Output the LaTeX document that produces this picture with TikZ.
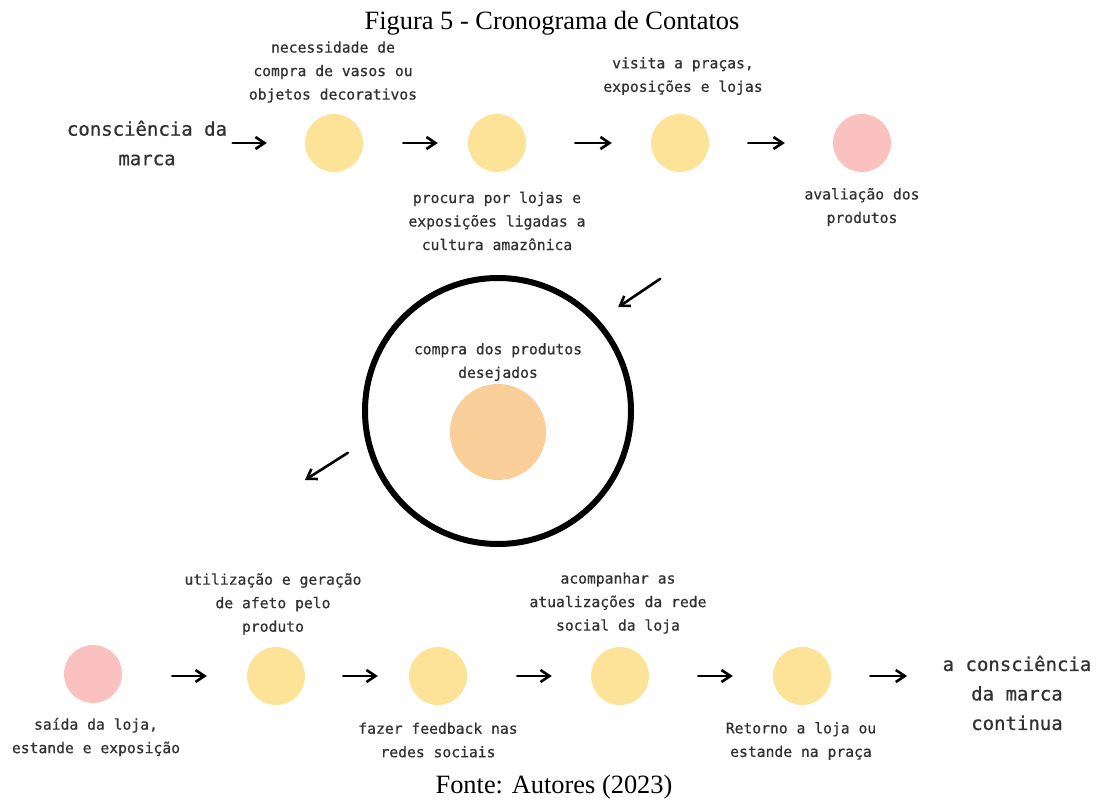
\documentclass[tikz,border=0pt]{standalone}
\usepackage{fontspec}
\setmainfont{Liberation Serif}
\setmonofont{DejaVu Sans Mono}[FakeBold=0.7]
\usetikzlibrary{arrows.meta}

\definecolor{amarelo}{RGB}{253,227,152}
\definecolor{rosa}{RGB}{250,193,190}
\definecolor{laranja}{RGB}{250,206,152}
\definecolor{texto}{RGB}{50,50,50}

\tikzset{
	etapa/.style={circle, fill=#1, minimum size=58pt, inner sep=0pt},
	seta/.style={-{Straight Barb[length=9pt,width=12pt]}, line width=2.6pt, line cap=round},
	rotulo/.style={align=center, text=texto, font=\ttfamily\fontsize{14.7}{23.5}\selectfont},
	grande/.style={align=center, text=texto, font=\ttfamily\fontsize{19}{29.5}\selectfont},
	legenda/.style={font=\fontsize{26.4}{30}\selectfont, anchor=base}
}

\begin{document}
\begin{tikzpicture}[x=1pt, y=-1pt]
		
		\fill[white] (0,0) rectangle (1097,802);
		\useasboundingbox (0,0) rectangle (1097,802);
		
		% titulo e fonte
		\node[legenda] (titulo) at (552,30) {Figura 5 - Cronograma de Contatos};
		\node[legenda] (fonte) at (554,793) {Fonte: Autores (2023)};
		
		% linha de cima
		\node[grande] (t0) at (147,143) {consciência da\\marca};
		\node[etapa=amarelo] (c1) at (334,143) {};
		\node[etapa=amarelo] (c2) at (497,143) {};
		\node[etapa=amarelo] (c3) at (680,143) {};
		\node[etapa=rosa] (c4) at (862,143) {};
		
		\node[rotulo] (l1) at (333,72) {necessidade de\\compra de vasos ou\\objetos decorativos};
		\node[rotulo] (l2) at (497,221) {procura por lojas e\\exposições ligadas a\\cultura amazônica};
		\node[rotulo] (l3) at (683,76) {visita a praças,\\exposições e lojas};
		\node[rotulo] (l4) at (862,207) {avaliação dos\\produtos};
		
		\draw[seta] ([xshift=2pt]t0.east |- c1) -- ([xshift=-38pt]c1.west);
		\draw[seta] ([xshift=40pt]c1.east) -- ([xshift=-30pt]c2.west);
		\draw[seta] ([xshift=49pt]c2.east) -- ([xshift=-39pt]c3.west);
		\draw[seta] ([xshift=39pt]c3.east) -- ([xshift=-48pt]c4.west);
		
		% compra
		\node[circle, draw, line width=6pt, minimum size=266pt, inner sep=0pt] (anel) at (498,411) {};
		\node[etapa=laranja, minimum size=96pt] (compra) at (498,432) {};
		\node[rotulo] (l5) at (498,362) {compra dos produtos\\desejados};
		
		\draw[seta, shorten <=214pt, shorten >=23pt] (c4) -- (anel.42);
		\coordinate (saida) at (305,480);
		\draw[seta, shorten <=21pt] (anel.193) -- (saida);
		
		% linha de baixo
		\node[etapa=rosa] (b1) at (93,674) {};
		\node[etapa=amarelo] (b2) at (276,676) {};
		\node[etapa=amarelo] (b3) at (438,676) {};
		\node[etapa=amarelo] (b4) at (620,676) {};
		\node[etapa=amarelo] (b5) at (802,676) {};
		\node[grande] (t1) at (1017,693) {a consciência\\da marca\\continua};
		
		\node[rotulo] (l6) at (96,737) {saída da loja,\\estande e exposição};
		\node[rotulo] (l7) at (273,604) {utilização e geração\\de afeto pelo\\produto};
		\node[rotulo] (l8) at (438,740) {fazer feedback nas\\redes sociais};
		\node[rotulo] (l9) at (618,603) {acompanhar as\\atualizações da rede\\social da loja};
		\node[rotulo] (l10) at (801,741) {Retorno a loja ou\\estande na praça};
		
		\draw[seta] ([xshift=50pt]b1.east |- b2) -- ([xshift=-40pt]b2.west);
		\draw[seta] ([xshift=38pt]b2.east) -- ([xshift=-31pt]b3.west);
		\draw[seta] ([xshift=50pt]b3.east) -- ([xshift=-39pt]b4.west);
		\draw[seta] ([xshift=49pt]b4.east) -- ([xshift=-40pt]b5.west);
		\draw[seta] ([xshift=39pt]b5.east) -- ([xshift=-32pt]t1.west |- b5);
		
\end{tikzpicture}
\end{document}
